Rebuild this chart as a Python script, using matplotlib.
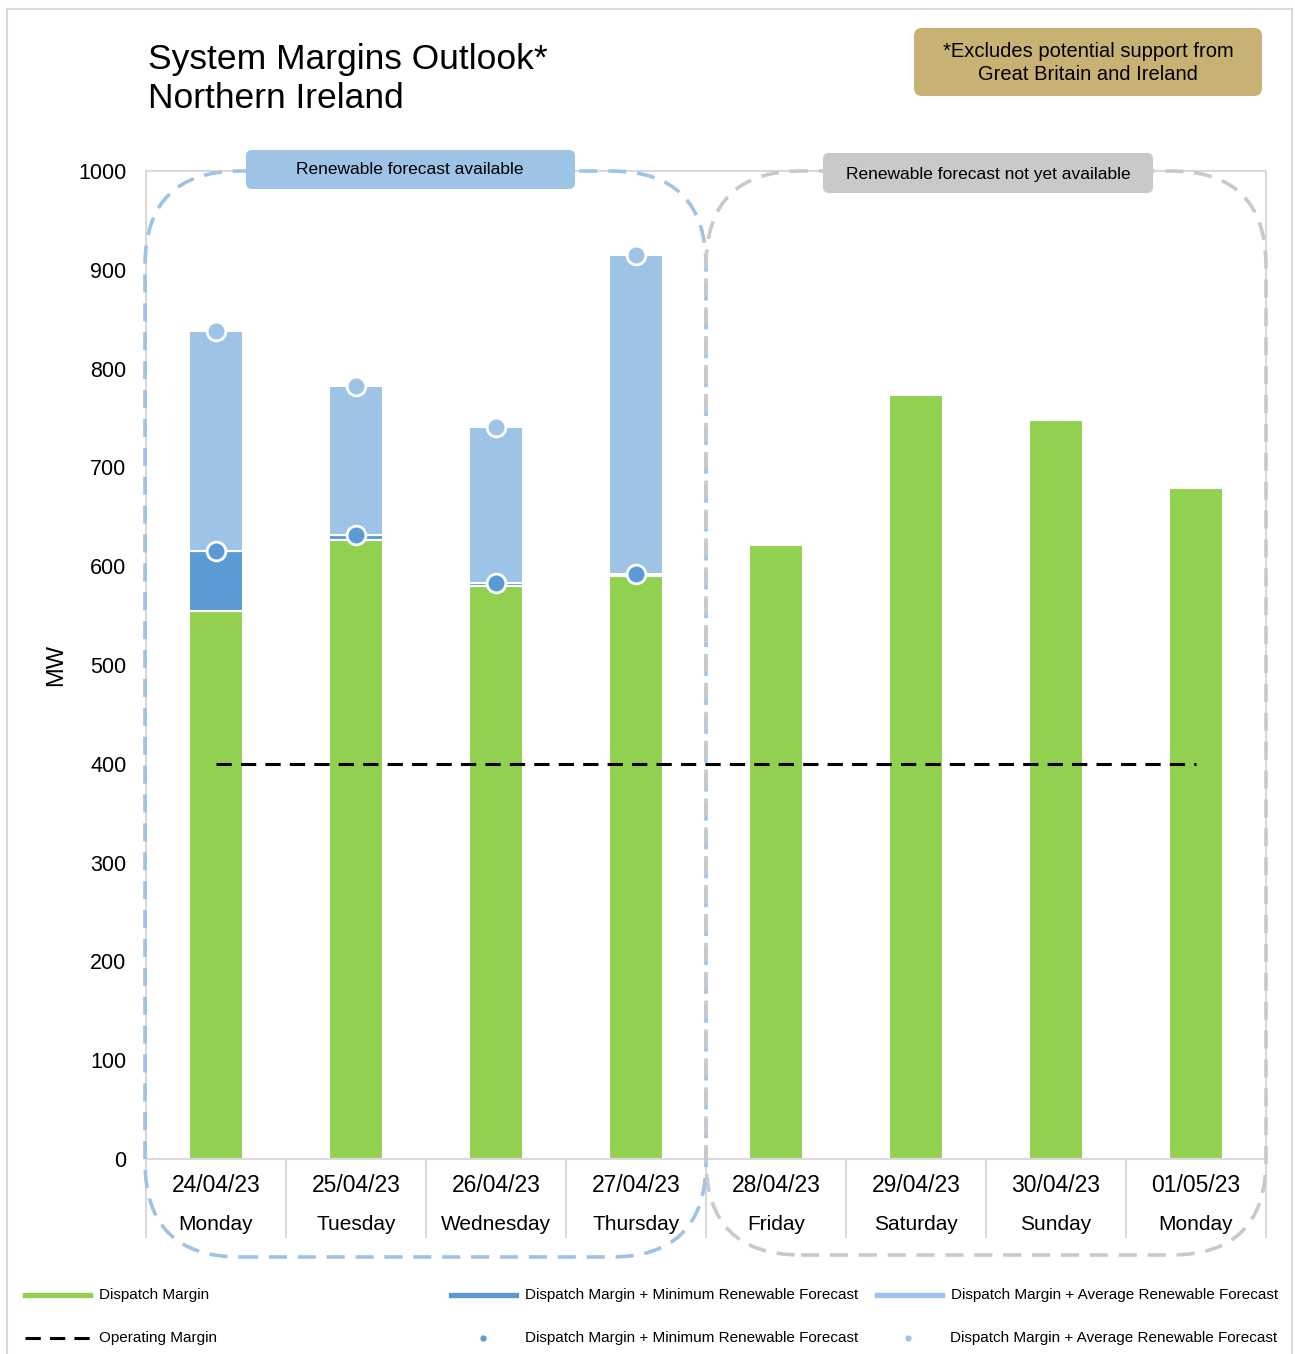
import matplotlib
matplotlib.use("Agg")
import matplotlib.pyplot as plt
import numpy as np
from matplotlib.patches import FancyBboxPatch, Rectangle
from matplotlib.lines import Line2D
from matplotlib.transforms import IdentityTransform, blended_transform_factory

plt.rcParams["font.family"] = ["Liberation Sans", "DejaVu Sans"]

# --- data ---
dates = ["24/04/23", "25/04/23", "26/04/23", "27/04/23",
         "28/04/23", "29/04/23", "30/04/23", "01/05/23"]
days = ["Monday", "Tuesday", "Wednesday", "Thursday",
        "Friday", "Saturday", "Sunday", "Monday"]
dispatch = [555, 627, 580, 590, 621, 773, 748, 679]
min_renew = [615, 632, 583, 592]     # dispatch + minimum renewable forecast
avg_renew = [838, 782, 741, 915]     # dispatch + average renewable forecast
operating = [400] * 8

GREEN = "#92D050"
DARK_BLUE = "#5B9BD5"
LIGHT_BLUE = "#9DC3E6"
GRID_GREY = "#D9D9D9"

W, H = 1295, 1354
fig = plt.figure(figsize=(W / 100, H / 100), dpi=100)
ax = fig.add_axes([146 / W, 1 - 1159 / H, 1120 / W, 988 / H])

x = np.arange(len(dates))
xf = x[:len(min_renew)]
bw = 0.386
disp = np.array(dispatch)
mn = np.array(min_renew)
av = np.array(avg_renew)

ax.bar(x, disp, width=bw, color=GREEN, edgecolor="white", linewidth=1.5, zorder=2)
ax.bar(xf, mn - disp[:len(xf)], bottom=disp[:len(xf)], width=bw,
       color=DARK_BLUE, edgecolor="white", linewidth=1.5, zorder=2)
ax.bar(xf, av - mn, bottom=mn, width=bw,
       color=LIGHT_BLUE, edgecolor="white", linewidth=1.5, zorder=2)
ax.plot(xf, mn, "o", ms=13.5, mfc=DARK_BLUE, mec="white", mew=2, ls="none", zorder=4)
ax.plot(xf, av, "o", ms=13.5, mfc=LIGHT_BLUE, mec="white", mew=2, ls="none", zorder=4)
ax.plot(x, operating, color="black", lw=2.2, ls=(0, (5, 3)), zorder=3)

ax.set_xlim(-0.5, len(dates) - 0.5)
ax.set_ylim(0, 1000)
ax.set_yticks(range(0, 1001, 100))
ax.tick_params(axis="y", length=0, pad=14, labelsize=15.5)
ax.set_xticks([])
for s in ax.spines.values():
    s.set_color(GRID_GREY)
    s.set_linewidth(1.5)
ax.set_ylabel("MW", fontsize=17, labelpad=8)

# category separators and two-line labels under the axis
trans = blended_transform_factory(ax.transData, ax.transAxes)
for b in np.arange(-0.5, len(dates), 1.0):
    ax.plot([b, b], [0, -78 / 988], color=GRID_GREY, lw=1.5, transform=trans, clip_on=False)
for xi, d, dy in zip(x, dates, days):
    ax.text(xi, -27 / 988, d, transform=trans, ha="center", va="center", fontsize=16.5)
    ax.text(xi, -66 / 988, dy, transform=trans, ha="center", va="center", fontsize=15)

ident = IdentityTransform()


def px_box(x0, y0, x1, y1, **kw):
    # rectangle given in image pixel coords (top-left origin)
    p = FancyBboxPatch((x0, H - y1), x1 - x0, y1 - y0, transform=ident, **kw)
    fig.patches.append(p)
    return p


# rounded dashed group outlines
px_box(145, 171, 706, 1257, boxstyle="round,pad=0,rounding_size=95",
       fill=False, ec=LIGHT_BLUE, lw=2.6, ls=(0, (5, 3)), zorder=5)
px_box(706, 171, 1266, 1255, boxstyle="round,pad=0,rounding_size=95",
       fill=False, ec="#C9C9C9", lw=2.6, ls=(0, (5, 3)), zorder=5)

# group header boxes
px_box(246, 150, 575, 189, boxstyle="round,pad=0,rounding_size=6",
       fc=LIGHT_BLUE, ec="none", zorder=6)
fig.text(410 / W, 1 - 170 / H, "Renewable forecast available", ha="center", va="center",
         fontsize=12.5, zorder=7)
px_box(823, 153, 1153, 193, boxstyle="round,pad=0,rounding_size=6",
       fc="#C9C9C9", ec="none", zorder=6)
fig.text(988 / W, 1 - 174 / H, "Renewable forecast not yet available", ha="center",
         va="center", fontsize=12.5, zorder=7)

# note box
px_box(914, 28, 1262, 96, boxstyle="round,pad=0,rounding_size=8",
       fc="#C8B273", ec="none", zorder=6)
fig.text(1088 / W, 1 - 63 / H, "*Excludes potential support from\nGreat Britain and Ireland",
         ha="center", va="center", fontsize=14.5, linespacing=1.3, zorder=7)

# title
fig.text(148 / W, 1 - 79 / H, "System Margins Outlook*\nNorthern Ireland", ha="left",
         va="center", fontsize=25.5, linespacing=1.22)

# outer frame
fig.patches.append(Rectangle((7, -10), 1285, H - 9 + 10, transform=ident,
                             fill=False, ec=GRID_GREY, lw=1.5))

# legend (drawn in pixel coords)
lab = "Dispatch Margin"
row1 = [(25, 90, GREEN, lab),
        (451, 516, DARK_BLUE, lab + " + Minimum Renewable Forecast"),
        (877, 942, LIGHT_BLUE, lab + " + Average Renewable Forecast")]
for x0, x1, c, t in row1:
    fig.lines.append(Line2D([x0, x1], [H - 1295, H - 1295], color=c, lw=3.8,
                            transform=ident))
    fig.text((x1 + 9) / W, 1 - 1295 / H, t, ha="left", va="center", fontsize=11)
fig.lines.append(Line2D([25, 92], [H - 1338, H - 1338], color="black", lw=2.2,
                        ls=(0, (5, 3)), transform=ident))
fig.text(99 / W, 1 - 1338 / H, "Operating Margin", ha="left", va="center", fontsize=11)
for cx, c, t in [(483, DARK_BLUE, lab + " + Minimum Renewable Forecast"),
                 (908, LIGHT_BLUE, lab + " + Average Renewable Forecast")]:
    fig.lines.append(Line2D([cx], [H - 1338], marker="o", ms=3.5, color=c, ls="none",
                            transform=ident))
    fig.text((cx + 42) / W, 1 - 1338 / H, t, ha="left", va="center", fontsize=11)

fig.savefig("out.png", dpi=100)
